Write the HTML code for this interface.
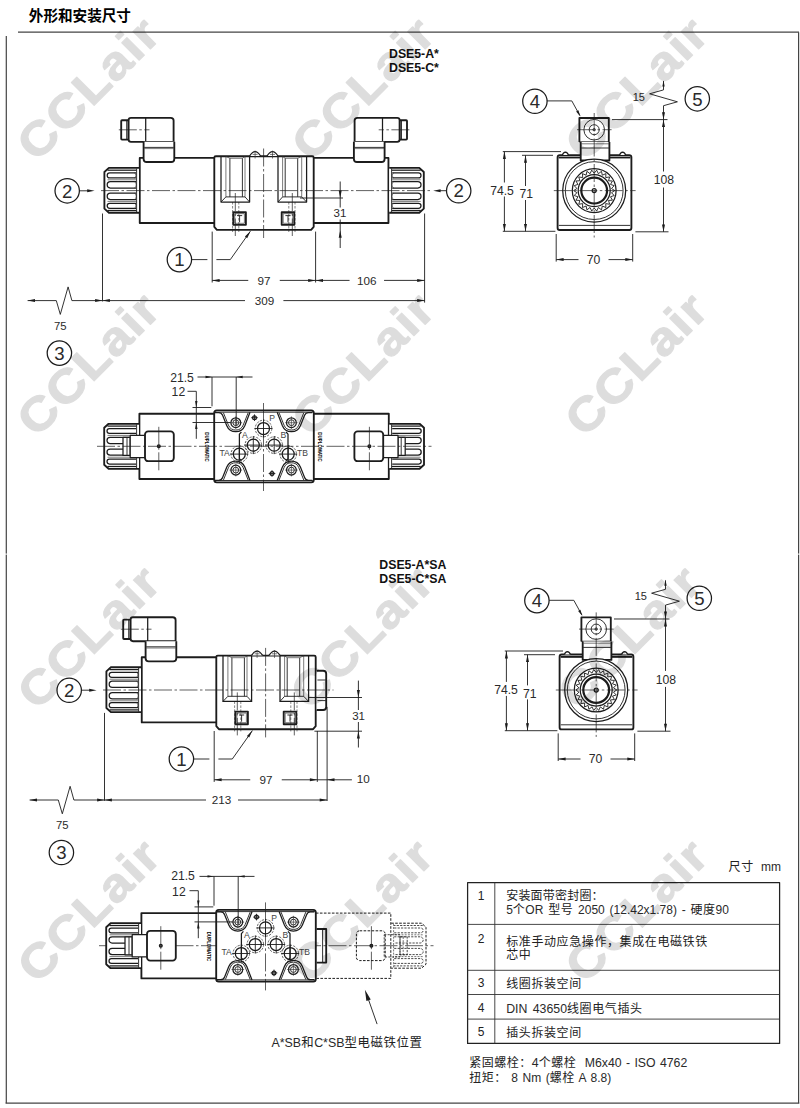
<!DOCTYPE html>
<html lang="zh"><head><meta charset="utf-8"><title>DSE5 外形和安装尺寸</title>
<style>
html,body{margin:0;padding:0;background:#fff}
svg{display:block}
text{font-family:"Liberation Sans","Noto Sans CJK SC",sans-serif;fill:#2a2a2a}
.wm{font-size:52px;letter-spacing:1.5px;font-weight:bold;fill:#000;stroke:#000;stroke-width:1.3px;stroke-linejoin:round;opacity:.13}
.cj{fill:#222}
path,rect,circle,line{fill:none;stroke:#1c1c1c;stroke-linejoin:round;stroke-linecap:butt}
.k{stroke-width:1.85}
.k2{stroke-width:2.2}
.m{stroke-width:1.25}
.n{stroke-width:.9}
.t{stroke-width:.65;stroke:#333}
.c{stroke-width:.7;stroke-dasharray:18 2.5 2.5 2.5}
.h{stroke-width:.55;stroke-dasharray:2.5 1.5}
.kd{stroke-width:1.0;stroke-dasharray:2.6 1.4}
.md{stroke-width:.8;stroke-dasharray:2.2 1.2}
.nd{stroke-width:.6;stroke-dasharray:2 1.2}
.pd{stroke-width:.7;stroke-dasharray:2.2 1.3}
.a{fill:#1c1c1c;stroke:none}
.fr{stroke-width:1.2;stroke:#444}
.tb{stroke-width:.9;stroke:#333}
.tb2{stroke-width:1.25;stroke:#222}
</style></head>
<body>
<svg width="800" height="1108" viewBox="0 0 800 1108">
<path class="fr" d="M18 32.2L799 32.2"/><path class="fr" d="M6.3 36L6.3 1103.2"/><path class="fr" d="M798.6 32.2L798.6 1103.2"/><path class="fr" d="M5.6 1103.2L799.3 1103.2"/><rect x="0" y="553.6" width="800" height="1" style="fill:#fff;stroke:none"/>
<text x="28.8" y="20.6" font-size="14.6" font-weight="bold" style="fill:#000">外形和安装尺寸</text>
<text x="389" y="58.4" font-size="12.3" font-weight="bold" style="fill:#111">DSE5-A*</text><text x="389" y="71.9" font-size="12.3" font-weight="bold" style="fill:#111">DSE5-C*</text><text x="379.3" y="569" font-size="12.3" font-weight="bold" style="fill:#111">DSE5-A*SA</text><text x="379.3" y="583.3" font-size="12.3" font-weight="bold" style="fill:#111">DSE5-C*SA</text>
<g id="top"><path class="k" d="M214.3 157.9L139.75 157.9L139.75 223L214.3 223"/><path class="k" d="M139 167.9L108.9 167.9L104.4 172L104.4 208.6L108.9 212.7L139 212.7" style="fill:#fff"/><path class="n" d="M136.6 168.5L136.6 212.2"/><path class="m" d="M136 172.9L109.7 172.9A2.5 2.5 0 0 0 109.7 177.9L136 177.9"/><path class="t" d="M134.3 172.9A1.5 2.5 0 0 1 134.3 177.9"/><path class="m" d="M136 181.7L110.35 181.7A3.15 3.15 0 0 0 110.35 188L136 188"/><path class="t" d="M134.3 181.7A1.89 3.15 0 0 1 134.3 188"/><path class="m" d="M136 193.2L110.35 193.2A3.15 3.15 0 0 0 110.35 199.5L136 199.5"/><path class="t" d="M134.3 193.2A1.89 3.15 0 0 1 134.3 199.5"/><path class="m" d="M136 203.3L109.7 203.3A2.5 2.5 0 0 0 109.7 208.3L136 208.3"/><path class="t" d="M134.3 203.3A1.5 2.5 0 0 1 134.3 208.3"/><path class="m" d="M107.5 170.2L136.4 170.2"/><path class="t" d="M107.5 179.8L136.4 179.8"/><path class="t" d="M107.5 201.4L136.4 201.4"/><path class="m" d="M107.5 210.5L136.4 210.5"/><rect class="k" x="121.2" y="120.2" width="7.4" height="19.4" rx="0.8" style="fill:#fff"/><path class="n" d="M126.7 120.2L126.7 139.6"/><path class="k" d="M128.6 120.2Q128.6 117.8 131 117.8L170.7 117.8Q173.6 117.8 173.6 120.6L173.6 141.8L131 141.8Q128.6 141.8 128.6 139.4Z" style="fill:#fff"/><path class="m" d="M145.7 118L145.7 141.6"/><path class="k" d="M143.6 141.8L143.6 158.9Q143.6 162 146.7 162L171.2 162Q174.3 162 174.3 158.9L174.3 141.8" style="fill:#fff"/><path class="n" d="M144.2 147.4L173.7 147.4"/><path class="t" d="M144.2 148.6L173.7 148.6"/><path class="c" d="M118.8 129.8L149.5 129.8" stroke-dasharray="4 2 6 2 6 2 9 9"/><path class="k" d="M214.3 157.7Q214.3 156.2 215.8 156.2L312.2 156.2Q313.7 156.2 313.7 157.7L313.7 226.8L311.1 229.8L216.9 229.8L214.3 226.8Z" style="fill:#fff"/><path class="m" d="M221 156.2L221 202L249.6 202L249.6 156.2"/><path class="t" d="M225.9 156.4L225.9 196.9"/><path class="n" d="M229.9 158.3L229.9 196.9"/><path class="n" d="M242.4 158.3L242.4 196.9"/><path class="t" d="M245 156.4L245 196.9"/><path class="n" d="M225.9 196.9L245 196.9"/><path class="n" d="M221 202L225.9 196.9"/><path class="n" d="M249.6 202L245 196.9"/><path class="t" d="M229.9 158.3L242.4 158.3"/><path class="t" d="M225.9 156.4L229.9 158.3"/><path class="t" d="M245 156.4L242.4 158.3"/><rect class="k" x="233.3" y="212.2" width="12.6" height="12.6"/><rect class="t" x="234.8" y="213.7" width="9.6" height="9.6"/><path class="n" d="M237 215.6L242.2 215.6M239.6 215.6L239.6 222.2"/><path class="c" d="M235.3 193L235.3 236" stroke-dasharray="7 1.5 1.5 1.5"/><path class="h" d="M232.6 202L232.6 232"/><path class="h" d="M238.8 202L238.8 232"/><path class="m" d="M249.6 156Q255.1 147.2 260.6 156" style="fill:#fff"/><path class="t" d="M252.6 154.4L257.6 154.4"/><path class="t" d="M255.1 150.6L255.1 158.5"/><path class="m" d="M306.6 156.2L306.6 202L278 202L278 156.2"/><path class="t" d="M301.7 156.4L301.7 196.9"/><path class="n" d="M297.7 158.3L297.7 196.9"/><path class="n" d="M285.2 158.3L285.2 196.9"/><path class="t" d="M282.6 156.4L282.6 196.9"/><path class="n" d="M301.7 196.9L282.6 196.9"/><path class="n" d="M306.6 202L301.7 196.9"/><path class="n" d="M278 202L282.6 196.9"/><path class="t" d="M297.7 158.3L285.2 158.3"/><path class="t" d="M301.7 156.4L297.7 158.3"/><path class="t" d="M282.6 156.4L285.2 158.3"/><rect class="k" x="281.7" y="212.2" width="12.6" height="12.6"/><rect class="t" x="283.2" y="213.7" width="9.6" height="9.6"/><path class="n" d="M285.4 215.6L290.6 215.6M288 215.6L288 222.2"/><path class="c" d="M292.3 193L292.3 236" stroke-dasharray="7 1.5 1.5 1.5"/><path class="h" d="M295 202L295 232"/><path class="h" d="M288.8 202L288.8 232"/><path class="m" d="M278 156Q272.5 147.2 267 156" style="fill:#fff"/><path class="t" d="M275 154.4L270 154.4"/><path class="t" d="M272.5 150.6L272.5 158.5"/><path class="c" d="M263.6 148.5L263.6 238"/><path class="n" d="M79.4 190.8L88 190.8"/><path class="a" d="M94.6 190.8L87.2 192.3L87.2 189.3Z"/><circle class="m" cx="67.2" cy="190.8" r="12.2" style="fill:#fff"/><text x="67.2" y="197.5" font-size="18.6" text-anchor="middle">2</text><path class="n" d="M191.6 259.6L207.4 259.6"/><path class="n" d="M216.4 259.6L230.3 259.6L250.4 231.2"/><path class="a" d="M250.4 231.2L247.21 238.13L244.92 236.51Z"/><circle class="m" cx="179.4" cy="259.6" r="12.2" style="fill:#fff"/><text x="179.4" y="266.3" font-size="18.6" text-anchor="middle">1</text><path class="n" d="M27.6 300.6L56.3 300.6L60.3 314.4L68.1 286.9L71.9 300.6L102.5 300.6"/><path class="a" d="M27.6 300.6L35 299.1L35 302.1Z"/><path class="a" d="M102.5 300.6L95.1 302.1L95.1 299.1Z"/><text x="60.3" y="330" font-size="11.3" text-anchor="middle">75</text><circle class="m" cx="59.4" cy="353.1" r="12.2" style="fill:#fff"/><text x="59.4" y="359.8" font-size="18.6" text-anchor="middle">3</text><path class="n" d="M102.5 213.5L102.5 301.4"/><path class="k" d="M313.9 157.9L388.45 157.9L388.45 223L313.9 223"/><path class="k" d="M389.2 167.9L419.3 167.9L423.8 172L423.8 208.6L419.3 212.7L389.2 212.7" style="fill:#fff"/><path class="n" d="M391.6 168.5L391.6 212.2"/><path class="m" d="M392.2 172.9L418.5 172.9A2.5 2.5 0 0 1 418.5 177.9L392.2 177.9"/><path class="t" d="M393.9 172.9A1.5 2.5 0 0 0 393.9 177.9"/><path class="m" d="M392.2 181.7L417.85 181.7A3.15 3.15 0 0 1 417.85 188L392.2 188"/><path class="t" d="M393.9 181.7A1.89 3.15 0 0 0 393.9 188"/><path class="m" d="M392.2 193.2L417.85 193.2A3.15 3.15 0 0 1 417.85 199.5L392.2 199.5"/><path class="t" d="M393.9 193.2A1.89 3.15 0 0 0 393.9 199.5"/><path class="m" d="M392.2 203.3L418.5 203.3A2.5 2.5 0 0 1 418.5 208.3L392.2 208.3"/><path class="t" d="M393.9 203.3A1.5 2.5 0 0 0 393.9 208.3"/><path class="m" d="M420.7 170.2L391.8 170.2"/><path class="t" d="M420.7 179.8L391.8 179.8"/><path class="t" d="M420.7 201.4L391.8 201.4"/><path class="m" d="M420.7 210.5L391.8 210.5"/><rect class="k" x="399.6" y="120.2" width="7.4" height="19.4" rx="0.8" style="fill:#fff"/><path class="n" d="M401.5 120.2L401.5 139.6"/><path class="k" d="M399.6 120.2Q399.6 117.8 397.2 117.8L357.5 117.8Q354.6 117.8 354.6 120.6L354.6 141.8L397.2 141.8Q399.6 141.8 399.6 139.4Z" style="fill:#fff"/><path class="m" d="M382.5 118L382.5 141.6"/><path class="k" d="M384.6 141.8L384.6 158.9Q384.6 162 381.5 162L357 162Q353.9 162 353.9 158.9L353.9 141.8" style="fill:#fff"/><path class="n" d="M384 147.4L354.5 147.4"/><path class="t" d="M384 148.6L354.5 148.6"/><path class="c" d="M409.4 129.8L378.7 129.8" stroke-dasharray="4 2 6 2 6 2 9 9"/><path class="c" d="M101 190.6L431.5 190.6"/><path class="n" d="M446.5 190.7L440 190.7"/><path class="a" d="M433.2 190.7L440.6 189.2L440.6 192.2Z"/><circle class="m" cx="458.7" cy="190.7" r="12.2" style="fill:#fff"/><text x="458.7" y="197.4" font-size="18.6" text-anchor="middle">2</text><path class="n" d="M212.2 231.6L212.2 282.5"/><path class="n" d="M315.6 231.6L315.6 282.5"/><path class="n" d="M424.6 213.5L424.6 302.6"/><path class="n" d="M212.2 280.4L248.25 280.4"/><path class="n" d="M279.75 280.4L315.6 280.4"/><path class="a" d="M212.2 280.4L219.6 278.9L219.6 281.9Z"/><path class="a" d="M315.6 280.4L308.2 281.9L308.2 278.9Z"/><text x="264" y="284.61" font-size="11.7" text-anchor="middle">97</text><path class="n" d="M315.6 280.4L349.55 280.4"/><path class="n" d="M384.05 280.4L424.6 280.4"/><path class="a" d="M315.6 280.4L323 278.9L323 281.9Z"/><path class="a" d="M424.6 280.4L417.2 281.9L417.2 278.9Z"/><text x="366.8" y="284.61" font-size="11.7" text-anchor="middle">106</text><path class="n" d="M102.5 300.6L245 300.6"/><path class="n" d="M283.4 300.6L424.6 300.6"/><path class="a" d="M102.5 300.6L109.9 299.1L109.9 302.1Z"/><path class="a" d="M424.6 300.6L417.2 302.1L417.2 299.1Z"/><text x="264.5" y="304.8" font-size="11.7" text-anchor="middle">309</text><path class="n" d="M300 198L343 198"/><path class="n" d="M340.2 181.5L340.2 207.5"/><path class="n" d="M340.2 219.5L340.2 248"/><path class="a" d="M340.2 198L338.7 190.6L341.7 190.6Z"/><path class="a" d="M340.2 230.3L341.7 237.7L338.7 237.7Z"/><text x="340" y="217.3" font-size="11.5" text-anchor="middle">31</text><path class="k" d="M579.4 142L579.4 118L608.8 118L608.8 142" style="fill:#fff"/><path class="m" d="M579.4 142L608.8 142"/><path class="k" d="M580.7 142L580.7 160.5L609.4 160.5L609.4 142" style="fill:#fff"/><path class="t" d="M581.2 143.8L608.9 143.8"/><path class="n" d="M581.2 148L608.9 148"/><circle class="n" cx="594.2" cy="129.7" r="10.3"/><circle class="n" cx="594.2" cy="129.7" r="5"/><circle class="n" cx="594.2" cy="129.7" r="1.2"/><path class="c" d="M577 129.7L611.6 129.7" stroke-dasharray="9 2 2 2"/><path class="k" d="M580.7 155.1L559.8 155.1Q557.6 155.1 557.6 157.3L557.6 228Q557.6 230 559.6 230L629.4 230Q631.4 230 631.4 228L631.4 157.3Q631.4 155.1 629.2 155.1L609.4 155.1"/><path class="k" d="M558.6 157.5L580.4 157.5"/><path class="k" d="M609.8 157.5L630.4 157.5"/><path class="n" d="M558.8 225.4L630.2 225.4"/><path class="m" d="M562.4 155.1Q563.2 152.3 565.4 152.2Q567.6 152.3 568.4 155.1" style="fill:#fff"/><path class="m" d="M619.6 155.1Q620.4 152.3 622.6 152.2Q624.8 152.3 625.6 155.1" style="fill:#fff"/><circle class="m" cx="594.2" cy="190.6" r="31.5" style="fill:#fff"/><circle class="n" cx="594.2" cy="190.6" r="28.9"/><circle class="m" cx="594.2" cy="190.6" r="21.9"/><circle class="m" cx="594.2" cy="190.6" r="16"/><path class="n" d="M614.8 190.6L611.47 192.7L614.2 195.53L610.47 196.77L612.44 200.17L608.52 200.48L609.62 204.26L605.74 203.62L605.9 207.55L602.29 206.01L601.5 209.86L598.36 207.49L596.68 211.05L594.2 208L591.72 211.05L590.04 207.49L586.9 209.86L586.11 206.01L582.5 207.55L582.66 203.62L578.78 204.26L579.88 200.48L575.96 200.17L577.93 196.77L574.2 195.53L576.93 192.7L573.6 190.6L576.93 188.5L574.2 185.67L577.93 184.43L575.96 181.03L579.88 180.72L578.78 176.94L582.66 177.58L582.5 173.65L586.11 175.19L586.9 171.34L590.04 173.71L591.72 170.15L594.2 173.2L596.68 170.15L598.36 173.71L601.5 171.34L602.29 175.19L605.9 173.65L605.74 177.58L609.62 176.94L608.52 180.72L612.44 181.03L610.47 184.43L614.2 185.67L611.47 188.5L614.8 190.6Z"/><circle class="k2" cx="594.2" cy="190.6" r="12.9"/><circle class="m" cx="594.2" cy="190.6" r="2"/><path class="c" d="M594.2 113L594.2 237.5" stroke-dasharray="14 2 2 2"/><path class="c" d="M553.8 190.6L635.6 190.6" stroke-dasharray="14 2 2 2"/><path class="n" d="M547 100.9L571.8 100.9L579.9 115.6"/><path class="a" d="M580.4 116.6L576.12 111.53L578.4 110.28Z"/><circle class="m" cx="534.9" cy="101.2" r="12.2" style="fill:#fff"/><text x="534.9" y="107.9" font-size="18.6" text-anchor="middle">4</text><path class="n" d="M502.8 151.6L561 151.6"/><path class="n" d="M502.8 231.3L555.4 231.3"/><path class="n" d="M504.4 151.6L504.4 182.5"/><path class="n" d="M504.4 196.5L504.4 231.3"/><path class="a" d="M504.4 151.6L505.9 159L502.9 159Z"/><path class="a" d="M504.4 231.3L502.9 223.9L505.9 223.9Z"/><text x="502" y="195" font-size="12.2" text-anchor="middle">74.5</text><path class="n" d="M522 155.3L553 155.3"/><path class="n" d="M525.5 155.3L525.5 186"/><path class="n" d="M525.5 200L525.5 231.3"/><path class="a" d="M525.5 155.3L527 162.7L524 162.7Z"/><path class="a" d="M525.5 231.3L524 223.9L527 223.9Z"/><text x="526.3" y="198.3" font-size="12.2" text-anchor="middle">71</text><path class="n" d="M556.2 234L556.2 261.6"/><path class="n" d="M632.7 234L632.7 261.6"/><path class="n" d="M556.2 259.6L578.5 259.6"/><path class="n" d="M608.5 259.6L632.7 259.6"/><path class="a" d="M556.2 259.6L563.6 258.1L563.6 261.1Z"/><path class="a" d="M632.7 259.6L625.3 261.1L625.3 258.1Z"/><text x="593.5" y="263.99" font-size="12.2" text-anchor="middle">70</text><path class="n" d="M612 119.6L667.5 119.6"/><path class="n" d="M635.4 231.8L668.5 231.8"/><path class="n" d="M663.5 119.6L663.5 171.5"/><path class="n" d="M663.5 187.5L663.5 231.8"/><path class="a" d="M663.5 119.6L665 127L662 127Z"/><path class="a" d="M663.5 231.8L662 224.4L665 224.4Z"/><text x="663.8" y="184.2" font-size="12.2" text-anchor="middle">108</text><path class="n" d="M663.5 119.6L663.5 105.7L677.4 101.8L649.6 93.8L663.5 89.9L663.5 81"/><path class="a" d="M663.5 119.6L662 112.2L665 112.2Z"/><path class="a" d="M663.5 80.4L664.7 86.4L662.3 86.4Z"/><text x="638.8" y="100.9" font-size="11" text-anchor="middle">15</text><circle class="m" cx="697.3" cy="98.8" r="12.2" style="fill:#fff"/><text x="697.3" y="105.5" font-size="18.6" text-anchor="middle">5</text><path class="k" d="M214.3 413.7L139.4 413.7L139.4 479L214.3 479"/><path class="k" d="M139 423.8L108.6 423.8L104.2 427.8L104.2 464.8L108.6 468.8L139 468.8" style="fill:#fff"/><path class="n" d="M136.6 424.4L136.6 468.2"/><path class="m" d="M136 428.6L109.4 428.6A2.4 2.4 0 0 0 109.4 433.4L136 433.4"/><path class="m" d="M136 437.4L110.1 437.4A3.1 3.1 0 0 0 110.1 443.6L136 443.6"/><path class="m" d="M136 449L110.1 449A3.1 3.1 0 0 0 110.1 455.2L136 455.2"/><path class="m" d="M136 459.2L109.4 459.2A2.4 2.4 0 0 0 109.4 464L136 464"/><path class="m" d="M107.5 426.1L136.4 426.1"/><path class="t" d="M107.5 435.4L136.4 435.4"/><path class="t" d="M107.5 457.2L136.4 457.2"/><path class="m" d="M107.5 466.5L136.4 466.5"/><rect class="m" x="123" y="437.4" width="7.2" height="18" style="fill:#fff"/><path class="n" d="M127 437.6L127 455.2"/><rect class="m" x="130.2" y="435.3" width="15.8" height="22.3" style="fill:#fff"/><rect class="k" x="145" y="431.4" width="28.8" height="29.8" rx="3.2" style="fill:#fff"/><circle class="m" cx="158.8" cy="446.3" r="1.4" style="fill:#555"/><path class="c" d="M158.8 426.8L158.8 470.6" stroke-dasharray="8 2 2 2"/><text transform="translate(204.8 447.05) rotate(90)" font-size="6.2" font-weight="bold" style="fill:#000" text-anchor="middle" textLength="29.6" lengthAdjust="spacingAndGlyphs">DUPLOMATIC</text><rect class="k" x="214.2" y="410.4" width="99.6" height="71.9" rx="2.6" style="fill:#fff"/><path class="n" d="M215.2 412.2L312.8 412.2"/><path class="n" d="M215.2 480.5L312.8 480.5"/><path class="m" d="M215 412.5L218.8 412.5Q221.4 412.5 222.6 415.3L226.8 425.7A9.75 9.75 0 0 0 244.8 425.7L250 412.3"/><path class="n" d="M223.4 412.7L228.4 425.1A8 8 0 0 0 243.2 425.1L248.2 412.7"/><circle class="m" cx="235.8" cy="422.7" r="4.9"/><circle class="n" cx="235.8" cy="422.7" r="2.9"/><path class="t" d="M229.5 422.7L242.1 422.7M235.8 416.4L235.8 429"/><path class="m" d="M312.2 412.5L308.4 412.5Q305.8 412.5 304.6 415.3L300.4 425.7A9.75 9.75 0 0 1 282.4 425.7L277.2 412.3"/><path class="n" d="M303.8 412.7L298.8 425.1A8 8 0 0 1 284 425.1L279 412.7"/><circle class="m" cx="291.4" cy="422.7" r="4.9"/><circle class="n" cx="291.4" cy="422.7" r="2.9"/><path class="t" d="M285.1 422.7L297.7 422.7M291.4 416.4L291.4 429"/><path class="m" d="M215 480.3L218.8 480.3Q221.4 480.3 222.6 477.5L226.8 467.1A9.75 9.75 0 0 1 244.8 467.1L250 480.5"/><path class="n" d="M223.4 480.1L228.4 467.7A8 8 0 0 1 243.2 467.7L248.2 480.1"/><circle class="m" cx="235.8" cy="470.1" r="4.9"/><circle class="n" cx="235.8" cy="470.1" r="2.9"/><path class="t" d="M229.5 470.1L242.1 470.1M235.8 463.8L235.8 476.4"/><path class="m" d="M312.2 480.3L308.4 480.3Q305.8 480.3 304.6 477.5L300.4 467.1A9.75 9.75 0 0 0 282.4 467.1L277.2 480.5"/><path class="n" d="M303.8 480.1L298.8 467.7A8 8 0 0 0 284 467.7L279 480.1"/><circle class="m" cx="291.4" cy="470.1" r="4.9"/><circle class="n" cx="291.4" cy="470.1" r="2.9"/><path class="t" d="M285.1 470.1L297.7 470.1M291.4 463.8L291.4 476.4"/><path class="m" d="M241.4 432L239.4 434.2L239.4 458.6L241.4 460.8"/><path class="m" d="M286 432L288 434.2L288 458.6L286 460.8"/><circle class="pd" cx="263.5" cy="428.5" r="8.3"/><circle class="m" cx="263.5" cy="428.5" r="6"/><path class="n" d="M254.5 428.5L272.5 428.5M263.5 419.5L263.5 437.5"/><circle class="pd" cx="253.3" cy="445.1" r="8.3"/><circle class="m" cx="253.3" cy="445.1" r="6"/><path class="n" d="M244.3 445.1L262.3 445.1M253.3 436.1L253.3 454.1"/><circle class="pd" cx="274.2" cy="445.1" r="8.3"/><circle class="m" cx="274.2" cy="445.1" r="6"/><path class="n" d="M265.2 445.1L283.2 445.1M274.2 436.1L274.2 454.1"/><circle class="pd" cx="239.3" cy="454.1" r="8.3"/><circle class="m" cx="239.3" cy="454.1" r="6"/><path class="n" d="M230.3 454.1L248.3 454.1M239.3 445.1L239.3 463.1"/><circle class="pd" cx="288.2" cy="454.1" r="8.3"/><circle class="m" cx="288.2" cy="454.1" r="6"/><path class="n" d="M279.2 454.1L297.2 454.1M288.2 445.1L288.2 463.1"/><circle class="m" cx="254.5" cy="417.7" r="1.9"/><path class="n" d="M251.2 417.7L257.8 417.7M254.5 414.4L254.5 421"/><circle class="m" cx="272" cy="473.5" r="1.9"/><path class="n" d="M268.7 473.5L275.3 473.5M272 470.2L272 476.8"/><text x="272.1" y="421.2" font-size="8.6" style="fill:#444" text-anchor="middle">P</text><text x="244.8" y="438.4" font-size="8.6" style="fill:#444" text-anchor="middle">A</text><text x="283.4" y="438.4" font-size="8.6" style="fill:#444" text-anchor="middle">B</text><text x="224.6" y="456" font-size="8.6" style="fill:#444" text-anchor="middle">TA</text><text x="302.6" y="456" font-size="8.6" style="fill:#444" text-anchor="middle">TB</text><path class="c" d="M263.5 403L263.5 491" stroke-dasharray="14 2 2 2"/><path class="n" d="M197.5 377L252.5 377"/><path class="n" d="M212 377L212 406.3"/><path class="n" d="M236.2 377L236.2 425"/><path class="a" d="M212 377L205.5 378.2L205.5 375.8Z"/><path class="a" d="M236.2 377L242.7 375.8L242.7 378.2Z"/><text x="182" y="382.4" font-size="12.2" text-anchor="middle">21.5</text><path class="n" d="M187.5 391.3L196.3 391.3L196.3 438.8"/><path class="n" d="M192.5 407.5L211.3 407.5"/><path class="n" d="M192.5 422.5L230.5 422.5"/><path class="a" d="M196.3 407.5L195.1 401L197.5 401Z"/><path class="a" d="M196.3 422.5L197.5 429L195.1 429Z"/><text x="178.4" y="396" font-size="12.2" text-anchor="middle">12</text><path class="k" d="M313.9 413.7L388.8 413.7L388.8 479L313.9 479"/><path class="k" d="M389.2 423.8L419.6 423.8L424 427.8L424 464.8L419.6 468.8L389.2 468.8" style="fill:#fff"/><path class="n" d="M391.6 424.4L391.6 468.2"/><path class="m" d="M392.2 428.6L418.8 428.6A2.4 2.4 0 0 1 418.8 433.4L392.2 433.4"/><path class="m" d="M392.2 437.4L418.1 437.4A3.1 3.1 0 0 1 418.1 443.6L392.2 443.6"/><path class="m" d="M392.2 449L418.1 449A3.1 3.1 0 0 1 418.1 455.2L392.2 455.2"/><path class="m" d="M392.2 459.2L418.8 459.2A2.4 2.4 0 0 1 418.8 464L392.2 464"/><path class="m" d="M420.7 426.1L391.8 426.1"/><path class="t" d="M420.7 435.4L391.8 435.4"/><path class="t" d="M420.7 457.2L391.8 457.2"/><path class="m" d="M420.7 466.5L391.8 466.5"/><rect class="m" x="398" y="437.4" width="7.2" height="18" style="fill:#fff"/><path class="n" d="M401.2 437.6L401.2 455.2"/><rect class="m" x="382.2" y="435.3" width="15.8" height="22.3" style="fill:#fff"/><rect class="k" x="354.4" y="431.4" width="28.8" height="29.8" rx="3.2" style="fill:#fff"/><circle class="m" cx="369.4" cy="446.3" r="1.4" style="fill:#555"/><path class="c" d="M369.4 426.8L369.4 470.6" stroke-dasharray="8 2 2 2"/><text transform="translate(318.35 447.05) rotate(90)" font-size="6.2" font-weight="bold" style="fill:#000" text-anchor="middle" textLength="29.6" lengthAdjust="spacingAndGlyphs">DUPLOMATIC</text><path class="c" d="M97 446.3L431.5 446.3"/></g>
<g id="bot" transform="translate(2 499.4)"><path class="k" d="M214.3 157.9L139.75 157.9L139.75 223L214.3 223"/><path class="k" d="M139 167.9L108.9 167.9L104.4 172L104.4 208.6L108.9 212.7L139 212.7" style="fill:#fff"/><path class="n" d="M136.6 168.5L136.6 212.2"/><path class="m" d="M136 172.9L109.7 172.9A2.5 2.5 0 0 0 109.7 177.9L136 177.9"/><path class="t" d="M134.3 172.9A1.5 2.5 0 0 1 134.3 177.9"/><path class="m" d="M136 181.7L110.35 181.7A3.15 3.15 0 0 0 110.35 188L136 188"/><path class="t" d="M134.3 181.7A1.89 3.15 0 0 1 134.3 188"/><path class="m" d="M136 193.2L110.35 193.2A3.15 3.15 0 0 0 110.35 199.5L136 199.5"/><path class="t" d="M134.3 193.2A1.89 3.15 0 0 1 134.3 199.5"/><path class="m" d="M136 203.3L109.7 203.3A2.5 2.5 0 0 0 109.7 208.3L136 208.3"/><path class="t" d="M134.3 203.3A1.5 2.5 0 0 1 134.3 208.3"/><path class="m" d="M107.5 170.2L136.4 170.2"/><path class="t" d="M107.5 179.8L136.4 179.8"/><path class="t" d="M107.5 201.4L136.4 201.4"/><path class="m" d="M107.5 210.5L136.4 210.5"/><rect class="k" x="121.2" y="120.2" width="7.4" height="19.4" rx="0.8" style="fill:#fff"/><path class="n" d="M126.7 120.2L126.7 139.6"/><path class="k" d="M128.6 120.2Q128.6 117.8 131 117.8L170.7 117.8Q173.6 117.8 173.6 120.6L173.6 141.8L131 141.8Q128.6 141.8 128.6 139.4Z" style="fill:#fff"/><path class="m" d="M145.7 118L145.7 141.6"/><path class="k" d="M143.6 141.8L143.6 158.9Q143.6 162 146.7 162L171.2 162Q174.3 162 174.3 158.9L174.3 141.8" style="fill:#fff"/><path class="n" d="M144.2 147.4L173.7 147.4"/><path class="t" d="M144.2 148.6L173.7 148.6"/><path class="c" d="M118.8 129.8L149.5 129.8" stroke-dasharray="4 2 6 2 6 2 9 9"/><path class="k" d="M214.3 157.7Q214.3 156.2 215.8 156.2L312.2 156.2Q313.7 156.2 313.7 157.7L313.7 226.8L311.1 229.8L216.9 229.8L214.3 226.8Z" style="fill:#fff"/><path class="m" d="M221 156.2L221 202L249.6 202L249.6 156.2"/><path class="t" d="M225.9 156.4L225.9 196.9"/><path class="n" d="M229.9 158.3L229.9 196.9"/><path class="n" d="M242.4 158.3L242.4 196.9"/><path class="t" d="M245 156.4L245 196.9"/><path class="n" d="M225.9 196.9L245 196.9"/><path class="n" d="M221 202L225.9 196.9"/><path class="n" d="M249.6 202L245 196.9"/><path class="t" d="M229.9 158.3L242.4 158.3"/><path class="t" d="M225.9 156.4L229.9 158.3"/><path class="t" d="M245 156.4L242.4 158.3"/><rect class="k" x="233.3" y="212.2" width="12.6" height="12.6"/><rect class="t" x="234.8" y="213.7" width="9.6" height="9.6"/><path class="n" d="M237 215.6L242.2 215.6M239.6 215.6L239.6 222.2"/><path class="c" d="M235.3 193L235.3 236" stroke-dasharray="7 1.5 1.5 1.5"/><path class="h" d="M232.6 202L232.6 232"/><path class="h" d="M238.8 202L238.8 232"/><path class="m" d="M249.6 156Q255.1 147.2 260.6 156" style="fill:#fff"/><path class="t" d="M252.6 154.4L257.6 154.4"/><path class="t" d="M255.1 150.6L255.1 158.5"/><path class="m" d="M306.6 156.2L306.6 202L278 202L278 156.2"/><path class="t" d="M301.7 156.4L301.7 196.9"/><path class="n" d="M297.7 158.3L297.7 196.9"/><path class="n" d="M285.2 158.3L285.2 196.9"/><path class="t" d="M282.6 156.4L282.6 196.9"/><path class="n" d="M301.7 196.9L282.6 196.9"/><path class="n" d="M306.6 202L301.7 196.9"/><path class="n" d="M278 202L282.6 196.9"/><path class="t" d="M297.7 158.3L285.2 158.3"/><path class="t" d="M301.7 156.4L297.7 158.3"/><path class="t" d="M282.6 156.4L285.2 158.3"/><rect class="k" x="281.7" y="212.2" width="12.6" height="12.6"/><rect class="t" x="283.2" y="213.7" width="9.6" height="9.6"/><path class="n" d="M285.4 215.6L290.6 215.6M288 215.6L288 222.2"/><path class="c" d="M292.3 193L292.3 236" stroke-dasharray="7 1.5 1.5 1.5"/><path class="h" d="M295 202L295 232"/><path class="h" d="M288.8 202L288.8 232"/><path class="m" d="M278 156Q272.5 147.2 267 156" style="fill:#fff"/><path class="t" d="M275 154.4L270 154.4"/><path class="t" d="M272.5 150.6L272.5 158.5"/><path class="c" d="M263.6 148.5L263.6 238"/><path class="n" d="M79.4 190.8L88 190.8"/><path class="a" d="M94.6 190.8L87.2 192.3L87.2 189.3Z"/><circle class="m" cx="67.2" cy="190.8" r="12.2" style="fill:#fff"/><text x="67.2" y="197.5" font-size="18.6" text-anchor="middle">2</text><path class="n" d="M191.6 259.6L207.4 259.6"/><path class="n" d="M216.4 259.6L230.3 259.6L250.4 231.2"/><path class="a" d="M250.4 231.2L247.21 238.13L244.92 236.51Z"/><circle class="m" cx="179.4" cy="259.6" r="12.2" style="fill:#fff"/><text x="179.4" y="266.3" font-size="18.6" text-anchor="middle">1</text><path class="n" d="M27.6 300.6L56.3 300.6L60.3 314.4L68.1 286.9L71.9 300.6L102.5 300.6"/><path class="a" d="M27.6 300.6L35 299.1L35 302.1Z"/><path class="a" d="M102.5 300.6L95.1 302.1L95.1 299.1Z"/><text x="60.3" y="330" font-size="11.3" text-anchor="middle">75</text><circle class="m" cx="59.4" cy="353.1" r="12.2" style="fill:#fff"/><text x="59.4" y="359.8" font-size="18.6" text-anchor="middle">3</text><path class="n" d="M102.5 213.5L102.5 301.4"/><path class="k" d="M314.6 171.3L321.2 171.3Q324.2 171.3 324.2 174.3L324.2 207.6Q324.2 210.6 321.2 210.6L314.6 210.6" style="fill:#fff"/><path class="n" d="M315.4 180.6L323.8 180.6"/><path class="n" d="M315.4 201.2L323.8 201.2"/><path class="c" d="M101 190.6L331.5 190.6"/><path class="n" d="M306.8 198.1L360 198.1"/><path class="n" d="M312.4 231.8L360 231.8"/><path class="n" d="M356.4 181.2L356.4 210.6"/><path class="n" d="M356.4 222.6L356.4 248.1"/><path class="a" d="M356.4 198.1L354.9 190.7L357.9 190.7Z"/><path class="a" d="M356.4 231.8L357.9 239.2L354.9 239.2Z"/><text x="356.6" y="220.4" font-size="11.5" text-anchor="middle">31</text><path class="n" d="M212.2 231.6L212.2 282.5"/><path class="n" d="M315.3 231.6L315.3 282.5"/><path class="n" d="M325.1 207.5L325.1 301.6"/><path class="n" d="M212.2 280.4L248.25 280.4"/><path class="n" d="M279.75 280.4L315.3 280.4"/><path class="a" d="M212.2 280.4L219.6 278.9L219.6 281.9Z"/><path class="a" d="M315.3 280.4L307.9 281.9L307.9 278.9Z"/><text x="264" y="284.61" font-size="11.7" text-anchor="middle">97</text><path class="n" d="M315.3 280.4L349.9 280.4"/><path class="a" d="M325.1 280.4L332.5 278.9L332.5 281.9Z"/><text x="361.3" y="284" font-size="11.7" text-anchor="middle">10</text><path class="n" d="M102.5 300.6L204 300.6"/><path class="n" d="M236 300.6L325.1 300.6"/><path class="a" d="M102.5 300.6L109.9 299.1L109.9 302.1Z"/><path class="a" d="M325.1 300.6L317.7 302.1L317.7 299.1Z"/><text x="219.5" y="304.8" font-size="11.7" text-anchor="middle">213</text><path class="k" d="M579.4 142L579.4 118L608.8 118L608.8 142" style="fill:#fff"/><path class="m" d="M579.4 142L608.8 142"/><path class="k" d="M580.7 142L580.7 160.5L609.4 160.5L609.4 142" style="fill:#fff"/><path class="t" d="M581.2 143.8L608.9 143.8"/><path class="n" d="M581.2 148L608.9 148"/><circle class="n" cx="594.2" cy="129.7" r="10.3"/><circle class="n" cx="594.2" cy="129.7" r="5"/><circle class="n" cx="594.2" cy="129.7" r="1.2"/><path class="c" d="M577 129.7L611.6 129.7" stroke-dasharray="9 2 2 2"/><path class="k" d="M580.7 155.1L559.8 155.1Q557.6 155.1 557.6 157.3L557.6 228Q557.6 230 559.6 230L629.4 230Q631.4 230 631.4 228L631.4 157.3Q631.4 155.1 629.2 155.1L609.4 155.1"/><path class="k" d="M558.6 157.5L580.4 157.5"/><path class="k" d="M609.8 157.5L630.4 157.5"/><path class="n" d="M558.8 225.4L630.2 225.4"/><path class="m" d="M562.4 155.1Q563.2 152.3 565.4 152.2Q567.6 152.3 568.4 155.1" style="fill:#fff"/><path class="m" d="M619.6 155.1Q620.4 152.3 622.6 152.2Q624.8 152.3 625.6 155.1" style="fill:#fff"/><circle class="m" cx="594.2" cy="190.6" r="31.5" style="fill:#fff"/><circle class="n" cx="594.2" cy="190.6" r="28.9"/><circle class="m" cx="594.2" cy="190.6" r="21.9"/><circle class="m" cx="594.2" cy="190.6" r="16"/><path class="n" d="M614.8 190.6L611.47 192.7L614.2 195.53L610.47 196.77L612.44 200.17L608.52 200.48L609.62 204.26L605.74 203.62L605.9 207.55L602.29 206.01L601.5 209.86L598.36 207.49L596.68 211.05L594.2 208L591.72 211.05L590.04 207.49L586.9 209.86L586.11 206.01L582.5 207.55L582.66 203.62L578.78 204.26L579.88 200.48L575.96 200.17L577.93 196.77L574.2 195.53L576.93 192.7L573.6 190.6L576.93 188.5L574.2 185.67L577.93 184.43L575.96 181.03L579.88 180.72L578.78 176.94L582.66 177.58L582.5 173.65L586.11 175.19L586.9 171.34L590.04 173.71L591.72 170.15L594.2 173.2L596.68 170.15L598.36 173.71L601.5 171.34L602.29 175.19L605.9 173.65L605.74 177.58L609.62 176.94L608.52 180.72L612.44 181.03L610.47 184.43L614.2 185.67L611.47 188.5L614.8 190.6Z"/><circle class="k2" cx="594.2" cy="190.6" r="12.9"/><circle class="m" cx="594.2" cy="190.6" r="2"/><path class="c" d="M594.2 113L594.2 237.5" stroke-dasharray="14 2 2 2"/><path class="c" d="M553.8 190.6L635.6 190.6" stroke-dasharray="14 2 2 2"/><path class="n" d="M547 100.9L571.8 100.9L579.9 115.6"/><path class="a" d="M580.4 116.6L576.12 111.53L578.4 110.28Z"/><circle class="m" cx="534.9" cy="101.2" r="12.2" style="fill:#fff"/><text x="534.9" y="107.9" font-size="18.6" text-anchor="middle">4</text><path class="n" d="M502.8 151.6L561 151.6"/><path class="n" d="M502.8 231.3L555.4 231.3"/><path class="n" d="M504.4 151.6L504.4 182.5"/><path class="n" d="M504.4 196.5L504.4 231.3"/><path class="a" d="M504.4 151.6L505.9 159L502.9 159Z"/><path class="a" d="M504.4 231.3L502.9 223.9L505.9 223.9Z"/><text x="504" y="195" font-size="12.2" text-anchor="middle">74.5</text><path class="n" d="M522 155.3L553 155.3"/><path class="n" d="M525.5 155.3L525.5 186"/><path class="n" d="M525.5 200L525.5 231.3"/><path class="a" d="M525.5 155.3L527 162.7L524 162.7Z"/><path class="a" d="M525.5 231.3L524 223.9L527 223.9Z"/><text x="527.8" y="198.3" font-size="12.2" text-anchor="middle">71</text><path class="n" d="M556.2 234L556.2 261.6"/><path class="n" d="M632.7 234L632.7 261.6"/><path class="n" d="M556.2 259.6L578.5 259.6"/><path class="n" d="M608.5 259.6L632.7 259.6"/><path class="a" d="M556.2 259.6L563.6 258.1L563.6 261.1Z"/><path class="a" d="M632.7 259.6L625.3 261.1L625.3 258.1Z"/><text x="593.5" y="263.99" font-size="12.2" text-anchor="middle">70</text><path class="n" d="M612 119.6L667.5 119.6"/><path class="n" d="M635.4 231.8L668.5 231.8"/><path class="n" d="M663.5 119.6L663.5 171.5"/><path class="n" d="M663.5 187.5L663.5 231.8"/><path class="a" d="M663.5 119.6L665 127L662 127Z"/><path class="a" d="M663.5 231.8L662 224.4L665 224.4Z"/><text x="663.8" y="184.2" font-size="12.2" text-anchor="middle">108</text><path class="n" d="M663.5 119.6L663.5 105.7L677.4 101.8L649.6 93.8L663.5 89.9L663.5 81"/><path class="a" d="M663.5 119.6L662 112.2L665 112.2Z"/><path class="a" d="M663.5 80.4L664.7 86.4L662.3 86.4Z"/><text x="638.8" y="100.9" font-size="11" text-anchor="middle">15</text><circle class="m" cx="697.3" cy="98.8" r="12.2" style="fill:#fff"/><text x="697.3" y="105.5" font-size="18.6" text-anchor="middle">5</text><path class="kd" d="M313.9 413.7L388.8 413.7L388.8 479L313.9 479"/><path class="kd" d="M389.2 423.8L419.6 423.8L424 427.8L424 464.8L419.6 468.8L389.2 468.8"/><path class="nd" d="M391.6 424.4L391.6 468.2"/><path class="md" d="M392.2 428.6L418.8 428.6A2.4 2.4 0 0 1 418.8 433.4L392.2 433.4"/><path class="md" d="M392.2 437.4L418.1 437.4A3.1 3.1 0 0 1 418.1 443.6L392.2 443.6"/><path class="md" d="M392.2 449L418.1 449A3.1 3.1 0 0 1 418.1 455.2L392.2 455.2"/><path class="md" d="M392.2 459.2L418.8 459.2A2.4 2.4 0 0 1 418.8 464L392.2 464"/><path class="md" d="M420.7 426.1L391.8 426.1"/><path class="nd" d="M420.7 435.4L391.8 435.4"/><path class="nd" d="M420.7 457.2L391.8 457.2"/><path class="md" d="M420.7 466.5L391.8 466.5"/><rect class="md" x="398" y="437.4" width="7.2" height="18" style="fill:none"/><path class="nd" d="M401.2 437.6L401.2 455.2"/><rect class="md" x="382.2" y="435.3" width="15.8" height="22.3" style="fill:none"/><rect class="kd" x="354.4" y="431.4" width="28.8" height="29.8" rx="3.2" style="fill:none"/><circle class="m" cx="369.4" cy="446.3" r="1.4" style="fill:#555"/><path class="c" d="M369.4 426.8L369.4 470.6" stroke-dasharray="8 2 2 2"/><path class="k" d="M314.6 429.6L324.2 429.6L324.2 463.2L314.6 463.2" style="fill:#fff"/><path class="n" d="M320.6 430L320.6 462.8"/><path class="c" d="M97 446.3L431.5 446.3"/><path class="k" d="M214.3 413.7L139.4 413.7L139.4 479L214.3 479"/><path class="k" d="M139 423.8L108.6 423.8L104.2 427.8L104.2 464.8L108.6 468.8L139 468.8" style="fill:#fff"/><path class="n" d="M136.6 424.4L136.6 468.2"/><path class="m" d="M136 428.6L109.4 428.6A2.4 2.4 0 0 0 109.4 433.4L136 433.4"/><path class="m" d="M136 437.4L110.1 437.4A3.1 3.1 0 0 0 110.1 443.6L136 443.6"/><path class="m" d="M136 449L110.1 449A3.1 3.1 0 0 0 110.1 455.2L136 455.2"/><path class="m" d="M136 459.2L109.4 459.2A2.4 2.4 0 0 0 109.4 464L136 464"/><path class="m" d="M107.5 426.1L136.4 426.1"/><path class="t" d="M107.5 435.4L136.4 435.4"/><path class="t" d="M107.5 457.2L136.4 457.2"/><path class="m" d="M107.5 466.5L136.4 466.5"/><rect class="m" x="123" y="437.4" width="7.2" height="18" style="fill:#fff"/><path class="n" d="M127 437.6L127 455.2"/><rect class="m" x="130.2" y="435.3" width="15.8" height="22.3" style="fill:#fff"/><rect class="k" x="145" y="431.4" width="28.8" height="29.8" rx="3.2" style="fill:#fff"/><circle class="m" cx="158.8" cy="446.3" r="1.4" style="fill:#555"/><path class="c" d="M158.8 426.8L158.8 470.6" stroke-dasharray="8 2 2 2"/><text transform="translate(204.8 447.05) rotate(90)" font-size="6.2" font-weight="bold" style="fill:#000" text-anchor="middle" textLength="29.6" lengthAdjust="spacingAndGlyphs">DUPLOMATIC</text><rect class="k" x="214.2" y="410.4" width="99.6" height="71.9" rx="2.6" style="fill:#fff"/><path class="n" d="M215.2 412.2L312.8 412.2"/><path class="n" d="M215.2 480.5L312.8 480.5"/><path class="m" d="M215 412.5L218.8 412.5Q221.4 412.5 222.6 415.3L226.8 425.7A9.75 9.75 0 0 0 244.8 425.7L250 412.3"/><path class="n" d="M223.4 412.7L228.4 425.1A8 8 0 0 0 243.2 425.1L248.2 412.7"/><circle class="m" cx="235.8" cy="422.7" r="4.9"/><circle class="n" cx="235.8" cy="422.7" r="2.9"/><path class="t" d="M229.5 422.7L242.1 422.7M235.8 416.4L235.8 429"/><path class="m" d="M312.2 412.5L308.4 412.5Q305.8 412.5 304.6 415.3L300.4 425.7A9.75 9.75 0 0 1 282.4 425.7L277.2 412.3"/><path class="n" d="M303.8 412.7L298.8 425.1A8 8 0 0 1 284 425.1L279 412.7"/><circle class="m" cx="291.4" cy="422.7" r="4.9"/><circle class="n" cx="291.4" cy="422.7" r="2.9"/><path class="t" d="M285.1 422.7L297.7 422.7M291.4 416.4L291.4 429"/><path class="m" d="M215 480.3L218.8 480.3Q221.4 480.3 222.6 477.5L226.8 467.1A9.75 9.75 0 0 1 244.8 467.1L250 480.5"/><path class="n" d="M223.4 480.1L228.4 467.7A8 8 0 0 1 243.2 467.7L248.2 480.1"/><circle class="m" cx="235.8" cy="470.1" r="4.9"/><circle class="n" cx="235.8" cy="470.1" r="2.9"/><path class="t" d="M229.5 470.1L242.1 470.1M235.8 463.8L235.8 476.4"/><path class="m" d="M312.2 480.3L308.4 480.3Q305.8 480.3 304.6 477.5L300.4 467.1A9.75 9.75 0 0 0 282.4 467.1L277.2 480.5"/><path class="n" d="M303.8 480.1L298.8 467.7A8 8 0 0 0 284 467.7L279 480.1"/><circle class="m" cx="291.4" cy="470.1" r="4.9"/><circle class="n" cx="291.4" cy="470.1" r="2.9"/><path class="t" d="M285.1 470.1L297.7 470.1M291.4 463.8L291.4 476.4"/><path class="m" d="M241.4 432L239.4 434.2L239.4 458.6L241.4 460.8"/><path class="m" d="M286 432L288 434.2L288 458.6L286 460.8"/><circle class="pd" cx="263.5" cy="428.5" r="8.3"/><circle class="m" cx="263.5" cy="428.5" r="6"/><path class="n" d="M254.5 428.5L272.5 428.5M263.5 419.5L263.5 437.5"/><circle class="pd" cx="253.3" cy="445.1" r="8.3"/><circle class="m" cx="253.3" cy="445.1" r="6"/><path class="n" d="M244.3 445.1L262.3 445.1M253.3 436.1L253.3 454.1"/><circle class="pd" cx="274.2" cy="445.1" r="8.3"/><circle class="m" cx="274.2" cy="445.1" r="6"/><path class="n" d="M265.2 445.1L283.2 445.1M274.2 436.1L274.2 454.1"/><circle class="pd" cx="239.3" cy="454.1" r="8.3"/><circle class="m" cx="239.3" cy="454.1" r="6"/><path class="n" d="M230.3 454.1L248.3 454.1M239.3 445.1L239.3 463.1"/><circle class="pd" cx="288.2" cy="454.1" r="8.3"/><circle class="m" cx="288.2" cy="454.1" r="6"/><path class="n" d="M279.2 454.1L297.2 454.1M288.2 445.1L288.2 463.1"/><circle class="m" cx="254.5" cy="417.7" r="1.9"/><path class="n" d="M251.2 417.7L257.8 417.7M254.5 414.4L254.5 421"/><circle class="m" cx="272" cy="473.5" r="1.9"/><path class="n" d="M268.7 473.5L275.3 473.5M272 470.2L272 476.8"/><text x="272.1" y="421.2" font-size="8.6" style="fill:#444" text-anchor="middle">P</text><text x="244.8" y="438.4" font-size="8.6" style="fill:#444" text-anchor="middle">A</text><text x="283.4" y="438.4" font-size="8.6" style="fill:#444" text-anchor="middle">B</text><text x="224.6" y="456" font-size="8.6" style="fill:#444" text-anchor="middle">TA</text><text x="302.6" y="456" font-size="8.6" style="fill:#444" text-anchor="middle">TB</text><path class="c" d="M263.5 403L263.5 491" stroke-dasharray="14 2 2 2"/><path class="n" d="M197.5 377L252.5 377"/><path class="n" d="M212 377L212 406.3"/><path class="n" d="M236.2 377L236.2 425"/><path class="a" d="M212 377L205.5 378.2L205.5 375.8Z"/><path class="a" d="M236.2 377L242.7 375.8L242.7 378.2Z"/><text x="181" y="380.6" font-size="12.2" text-anchor="middle">21.5</text><path class="n" d="M187.5 391.3L196.3 391.3L196.3 438.8"/><path class="n" d="M192.5 407.5L211.3 407.5"/><path class="n" d="M192.5 422.5L230.5 422.5"/><path class="a" d="M196.3 407.5L195.1 401L197.5 401Z"/><path class="a" d="M196.3 422.5L197.5 429L195.1 429Z"/><text x="176.9" y="397" font-size="12.2" text-anchor="middle">12</text></g>
<path class="n" d="M377.1 1024.1L366.6 994.2"/><path class="a" d="M364.9 989.8L370.75 999.39L366.42 1000.93Z"/><text x="271.5" y="1046.8" font-size="12.4" word-spacing="1.5" xml:space="preserve">A*SB</text>
<text class="cj" x="301.14" y="1046.8" font-size="12.4">和</text>
<text x="314.14" y="1046.8" font-size="12.4" word-spacing="1.5" xml:space="preserve">C*SB</text>
<text class="cj" x="344.46" y="1046.8" font-size="12.4" letter-spacing="0.6">型电磁铁位置</text>
<rect class="tb2" x="467.6" y="882.7" width="312" height="160.7"/><path class="tb" d="M467.6 924.4L779.6 924.4"/><path class="tb" d="M467.6 970.3L779.6 970.3"/><path class="tb" d="M467.6 994.5L779.6 994.5"/><path class="tb" d="M467.6 1019.1L779.6 1019.1"/><path class="tb" d="M494.8 882.7L494.8 1043.4"/><text x="481" y="899.6" font-size="12" style="fill:#222" text-anchor="middle">1</text><text x="481" y="943.2" font-size="12" style="fill:#222" text-anchor="middle">2</text><text x="481" y="987.2" font-size="12" style="fill:#222" text-anchor="middle">3</text><text x="481" y="1011.6" font-size="12" style="fill:#222" text-anchor="middle">4</text><text x="481" y="1035.8" font-size="12" style="fill:#222" text-anchor="middle">5</text>
<text class="cj" x="506.2" y="900" font-size="12" letter-spacing="0.2">安装面带密封圈：</text>
<text x="506.2" y="914.2" font-size="12" word-spacing="1.5" xml:space="preserve">5</text>
<text class="cj" x="512.87" y="914.2" font-size="12">个</text>
<text x="525.37" y="914.2" font-size="12" word-spacing="1.5" xml:space="preserve">OR </text>
<text class="cj" x="548.21" y="914.2" font-size="12" letter-spacing="0.5">型号</text>
<text x="573.21" y="914.2" font-size="12" word-spacing="1.5" xml:space="preserve"> 2050 (12.42x1.78) - </text>
<text class="cj" x="690.61" y="914.2" font-size="12" letter-spacing="0.5">硬度</text>
<text x="715.61" y="914.2" font-size="12" word-spacing="1.5" xml:space="preserve">90</text>
<text class="cj" x="506.2" y="946" font-size="12" letter-spacing="0.6">标准手动应急操作，集成在电磁铁铁</text>
<text class="cj" x="506.2" y="959" font-size="12" letter-spacing="0.6">芯中</text>
<text class="cj" x="506.2" y="988.4" font-size="12" letter-spacing="0.6">线圈拆装空间</text>
<text x="506.2" y="1012.8" font-size="12.3" word-spacing="2" xml:space="preserve">DIN 43650</text>
<text class="cj" x="567" y="1012.8" font-size="12" letter-spacing="0.6">线圈电气插头</text>
<text class="cj" x="506.2" y="1037" font-size="12" letter-spacing="0.6">插头拆装空间</text>
<text class="cj" x="469.3" y="1066.6" font-size="12" letter-spacing="0.5">紧固螺栓：</text>
<text x="531.8" y="1066.6" font-size="12.3" word-spacing="0.9" xml:space="preserve">4</text>
<text class="cj" x="538.64" y="1066.6" font-size="12" letter-spacing="0.5">个螺栓</text>
<text x="576.14" y="1066.6" font-size="12.3" word-spacing="0.9" xml:space="preserve">  M6x40 - ISO 4762</text>
<text class="cj" x="469.3" y="1082" font-size="12" letter-spacing="0.5">扭矩：</text>
<text x="506.8" y="1082" font-size="12" word-spacing="1.2" xml:space="preserve"> 8 Nm (</text>
<text class="cj" x="549.73" y="1082" font-size="12" letter-spacing="0.5">螺栓</text>
<text x="574.73" y="1082" font-size="12" word-spacing="1.2" xml:space="preserve"> A 8.8)</text>
<text class="cj" x="728.6" y="871.4" font-size="12" letter-spacing="0.6">尺寸</text>
<text x="761" y="871.4" font-size="12">mm</text><text class="wm" transform="translate(36.6 163) rotate(-45) scale(1 .9)">CCLair</text><text class="wm" transform="translate(311.2 163) rotate(-45) scale(1 .9)">CCLair</text><text class="wm" transform="translate(584.8 163) rotate(-45) scale(1 .9)">CCLair</text><text class="wm" transform="translate(36.6 438.5) rotate(-45) scale(1 .9)">CCLair</text><text class="wm" transform="translate(311.2 438.5) rotate(-45) scale(1 .9)">CCLair</text><text class="wm" transform="translate(584.6 438.5) rotate(-45) scale(1 .9)">CCLair</text><text class="wm" transform="translate(36.9 711.4) rotate(-45) scale(1 .9)">CCLair</text><text class="wm" transform="translate(309.9 711.4) rotate(-45) scale(1 .9)">CCLair</text><text class="wm" transform="translate(577.4 711.4) rotate(-45) scale(1 .9)">CCLair</text><text class="wm" transform="translate(36.9 985) rotate(-45) scale(1 .9)">CCLair</text><text class="wm" transform="translate(310.1 985) rotate(-45) scale(1 .9)">CCLair</text><text class="wm" transform="translate(584.8 985) rotate(-45) scale(1 .9)">CCLair</text>
</svg>
</body></html>
